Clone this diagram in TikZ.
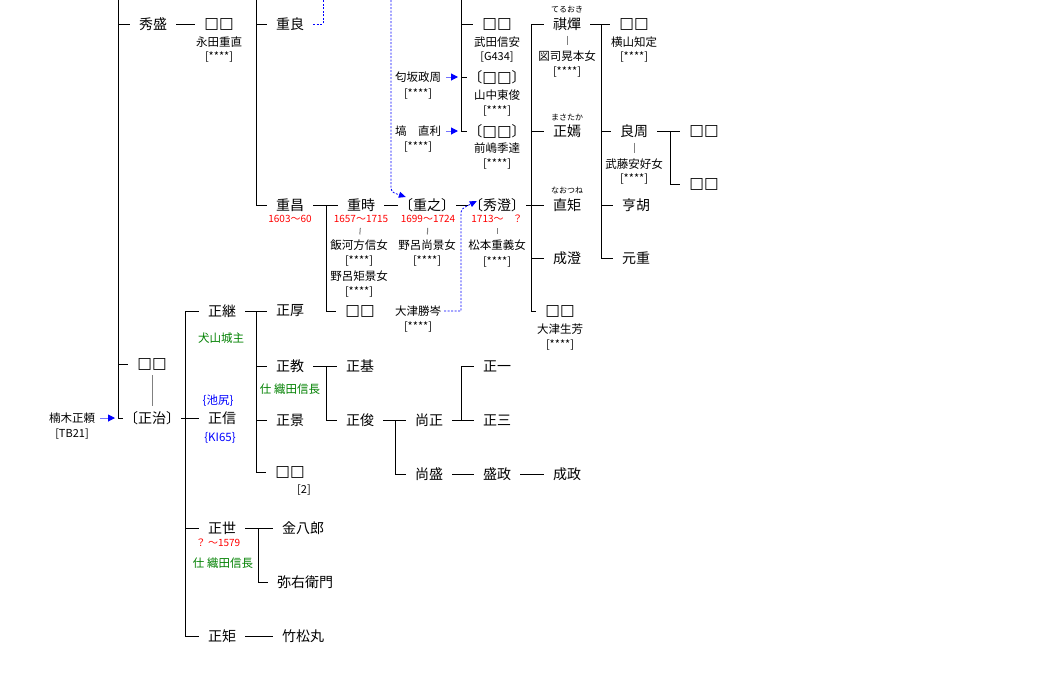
\documentclass[tikz,border=0pt]{standalone}
\usepackage{fontspec}
\newfontfamily\jp{Noto Sans CJK JP}
\newfontfamily\symf{DejaVu Sans}
\newcommand\sq{{\symf\fontsize{15.5}{15.5}\selectfont □}}
\usetikzlibrary{arrows.meta,calc}

\tikzset{
  nm/.style={font=\jp\fontsize{14}{14}\selectfont, inner xsep=9pt, inner ysep=0pt},
  brk/.style={nm, inner xsep=1pt},
  sb/.style={font=\jp\fontsize{11.5}{11.5}\selectfont, inner xsep=3pt, inner ysep=0pt},
  st/.style={font=\jp\fontsize{11}{11}\selectfont, inner sep=0pt},
  dt/.style={font=\jp\fontsize{10}{10}\selectfont, text=red, inner sep=0pt},
  rb/.style={font=\jp\fontsize{8}{8}\selectfont, inner sep=0pt},
  gn/.style={font=\jp\fontsize{11.5}{11.5}\selectfont, text=green!50!black, inner sep=0pt},
  bl/.style={font=\jp\fontsize{11.5}{11.5}\selectfont, text=blue, inner sep=0pt},
  ln/.style={line width=1pt},
  sp/.style={gray, line width=1pt, shorten <=5pt, shorten >=5pt},
  adopt/.style={blue, line width=0.8pt, dash pattern=on 2pt off 1.5pt},
  arr/.style={blue!55, line width=1pt, shorten <=2pt, -{Triangle[length=7pt,width=7pt,color=blue]}}
}

\begin{document}
\begin{tikzpicture}[x=1pt,y=-1pt]
  \useasboundingbox (0,0) rectangle (1060,681);

  % columns of the tree
  \coordinate (c0) at (118,0);
  \coordinate (c1) at (256,0);
  \coordinate (c2) at (461,0);
  \coordinate (c3) at (531,0);
  \coordinate (c4) at (601,0);
  \coordinate (c5) at (670,0);
  \coordinate (e1) at (326,0);
  \coordinate (d0) at (185,0);
  \coordinate (d1) at (256,0);
  \coordinate (d2) at (326,0);
  \coordinate (d3) at (395,0);
  \coordinate (d4) at (461,0);
  \coordinate (d5) at (258,0);
  \coordinate (dq) at (323,0);
  \coordinate (dr) at (391,0);

  % upper branch
  \node [nm] (hidemori) at (153,24) {秀盛};
  \node [nm] (boxa) at (219,24) {\sq\sq};
  \node [sb] (boxa-s) at (219,42) {永田重直};
  \node [st] at (219,57) {[****]};
  \node [nm] (shigeyoshi) at (290,24) {重良};

  \node [nm] (shigemasa) at (290,205) {重昌};
  \node [dt] at (290,219) {1603～60};
  \node [nm] (shigetoki) at (361,205) {重時};
  \node [dt] (shigetoki-d) at (361,219) {1657～1715};
  \node [sb] (iikawa) at (359,245) {飯河方信女};
  \node [st] at (359,261) {[****]};
  \node [sb] at (359,276) {野呂矩景女};
  \node [st] at (359,292) {[****]};
  \node [nm] (boxb) at (360,311) {\sq\sq};

  \node [brk] (shigeyuki) at (427,205) {〔重之〕};
  \node [dt] (shigeyuki-d) at (428,219) {1699～1724};
  \node [sb] (noro) at (427,245) {野呂尚景女};
  \node [st] at (427,261) {[****]};
  \node [brk] (hidezumi) at (497,205) {〔秀澄〕};
  \node [dt] (hidezumi-d) at (497,219) {1713～\hspace{9pt}？};
  \node [sb] (matsumoto) at (497,245) {松本重義女};
  \node [st] at (497,262) {[****]};
  \node [sb] (otsu) at (418,311) {大津勝岑};
  \node [st] at (418,327) {[****]};

  \node [nm] (boxc) at (497,24) {\sq\sq};
  \node [sb] at (497,42) {武田信安};
  \node [st] at (497,57) {[G434]};
  \node [brk] (boxd) at (497,77) {〔\sq\sq〕};
  \node [sb] at (497,95) {山中東俊};
  \node [st] at (497,111) {[****]};
  \node [brk] (boxe) at (497,131) {〔\sq\sq〕};
  \node [sb] at (497,148) {前嶋季達};
  \node [st] at (497,164) {[****]};
  \node [sb] (sagisaka) at (418,77) {匂坂政周};
  \node [st] at (418,94) {[****]};
  \node [sb] (hanawa) at (418,131) {塙　直利};
  \node [st] at (418,147) {[****]};

  \node [rb] at (567,9) {てるおき};
  \node [nm] (terukatsu) at (567,24) {祺燀};
  \node [sb] (zushi) at (567,56) {図司晃本女};
  \node [st] at (567,72) {[****]};
  \node [rb] at (567,117) {まさたか};
  \node [nm] (masataka) at (567,131) {正嫣};
  \node [rb] at (567,190) {なおつね};
  \node [nm] (naotsune) at (567,205) {直矩};
  \node [nm] (narizumi) at (567,258) {成澄};
  \node [nm] (boxf) at (560,311) {\sq\sq};
  \node [sb] at (560,329) {大津生芳};
  \node [st] at (560,345) {[****]};

  \node [nm] (boxg) at (634,24) {\sq\sq};
  \node [sb] at (634,42) {横山知定};
  \node [st] at (634,57) {[****]};
  \node [nm] (yoshichika) at (634,131) {良周};
  \node [sb] (muto) at (634,164) {武藤安好女};
  \node [st] at (634,179) {[****]};
  \node [nm] (kouko) at (636,205) {亨胡};
  \node [nm] (motoshige) at (636,258) {元重};
  \node [nm] (boxh) at (704,131) {\sq\sq};
  \node [nm] (boxi) at (704,184) {\sq\sq};

  % lower branch
  \node [sb] (masayori) at (72,418) {楠木正頼};
  \node [st] at (72,434) {[TB21]};
  \node [nm] (boxj) at (152,364) {\sq\sq};
  \node [brk] (masaharu) at (152,418) {〔正治〕};

  \node [nm] (masatsugu) at (222,311) {正継};
  \node [gn] at (221,338) {犬山城主};
  \node [bl] at (218,401) {\{池尻\}};
  \node [nm] (masanobu) at (222,418) {正信};
  \node [bl] at (220,438) {\{KI65\}};
  \node [nm] (masayo) at (222,528) {正世};
  \node [dt] at (218,543) {？ ～1579};
  \node [gn] at (223,563) {仕 織田信長};
  \node [nm] (masanori) at (222,636) {正矩};

  \node [nm] (masaatsu) at (290,311) {正厚};
  \node [nm] (masanori2) at (290,366) {正教};
  \node [gn] at (290,389) {仕 織田信長};
  \node [nm] (masakage) at (290,420) {正景};
  \node [nm] (boxk) at (290,472) {\sq\sq};
  \node [st] at (304,490) {[2]};

  \node [nm] (masamoto) at (360,366) {正基};
  \node [nm] (masatoshi) at (360,420) {正俊};
  \node [nm] (naomasa) at (429,420) {尚正};
  \node [nm] (naomori) at (429,474) {尚盛};
  \node [nm] (masakazu) at (497,366) {正一};
  \node [nm] (masazo) at (497,420) {正三};
  \node [nm] (morimasa) at (497,474) {盛政};
  \node [nm] (narimasa) at (567,474) {成政};

  \node [nm] (kinpachiro) at (303,528) {金八郎};
  \node [nm] (yaemon) at (305,582) {弥右衛門};
  \node [nm] (takematsu) at (303,636) {竹松丸};

  % tree lines
  \draw [ln] (c0) -- (masaharu.west -| c0);
  \foreach \k in {hidemori,boxj,masaharu} \draw [ln] (\k.west -| c0) -- (\k.west);
  \draw [ln] (hidemori) -- (boxa);

  \draw [ln] (c1) -- (shigemasa.west -| c1);
  \foreach \k in {shigeyoshi,shigemasa} \draw [ln] (\k.west -| c1) -- (\k.west);

  \draw [ln] (shigemasa.east) -- (shigemasa.east -| e1);
  \draw [ln] (shigetoki.west -| e1) -- (boxb.west -| e1);
  \foreach \k in {shigetoki,boxb} \draw [ln] (\k.west -| e1) -- (\k.west);
  \draw [ln] (shigetoki) -- (shigeyuki);
  \draw [ln] (shigeyuki) -- (hidezumi);

  \draw [ln] (c2) -- (boxe.west -| c2);
  \foreach \k in {boxc,boxd,boxe} \draw [ln] (\k.west -| c2) -- (\k.west);

  \draw [ln] (hidezumi.east) -- (hidezumi.east -| c3);
  \draw [ln] (terukatsu.west -| c3) -- (boxf.west -| c3);
  \foreach \k in {terukatsu,masataka,naotsune,narizumi,boxf} \draw [ln] (\k.west -| c3) -- (\k.west);

  \draw [ln] (terukatsu.east) -- (terukatsu.east -| c4);
  \draw [ln] (boxg.west -| c4) -- (motoshige.west -| c4);
  \foreach \k in {boxg,yoshichika,kouko,motoshige} \draw [ln] (\k.west -| c4) -- (\k.west);

  \draw [ln] (yoshichika.east) -- (yoshichika.east -| c5);
  \draw [ln] (boxh.west -| c5) -- (boxi.west -| c5);
  \foreach \k in {boxh,boxi} \draw [ln] (\k.west -| c5) -- (\k.west);

  \draw [ln] (masaharu.east) -- (masaharu.east -| d0);
  \draw [ln] (masatsugu.west -| d0) -- (masanori.west -| d0);
  \foreach \k in {masatsugu,masanobu,masayo,masanori} \draw [ln] (\k.west -| d0) -- (\k.west);

  \draw [ln] (masatsugu.east) -- (masatsugu.east -| d1);
  \draw [ln] (masaatsu.west -| d1) -- (boxk.west -| d1);
  \foreach \k in {masaatsu,masanori2,masakage,boxk} \draw [ln] (\k.west -| d1) -- (\k.west);

  \draw [ln] (masanori2.east) -- (masanori2.east -| d2);
  \draw [ln] (masamoto.west -| d2) -- (masatoshi.west -| d2);
  \foreach \k in {masamoto,masatoshi} \draw [ln] (\k.west -| d2) -- (\k.west);

  \draw [ln] (masatoshi.east) -- (masatoshi.east -| d3);
  \draw [ln] (naomasa.west -| d3) -- (naomori.west -| d3);
  \foreach \k in {naomasa,naomori} \draw [ln] (\k.west -| d3) -- (\k.west);

  \draw [ln] (naomasa.east) -- (naomasa.east -| d4);
  \draw [ln] (masakazu.west -| d4) -- (masazo.west -| d4);
  \foreach \k in {masakazu,masazo} \draw [ln] (\k.west -| d4) -- (\k.west);
  \draw [ln] (naomori) -- (morimasa);
  \draw [ln] (morimasa) -- (narimasa);

  \draw [ln] (masayo.east) -- (masayo.east -| d5);
  \draw [ln] (kinpachiro.west -| d5) -- (yaemon.west -| d5);
  \foreach \k in {kinpachiro,yaemon} \draw [ln] (\k.west -| d5) -- (\k.west);
  \draw [ln] (masanori) -- (takematsu);

  % spouses
  \draw [sp] (shigetoki-d) -- (iikawa);
  \draw [sp] (shigeyuki-d) -- (noro);
  \draw [sp] (hidezumi-d) -- (matsumoto);
  \draw [sp] (terukatsu) -- (zushi);
  \draw [sp] (yoshichika) -- (muto);
  \draw [sp] (boxj) -- (masaharu);

  % adoptions
  \draw [arr] (masayori.east) -- ($(masaharu.west -| c0)+(-3,0)$);
  \draw [arr] (sagisaka.east) -- ($(boxd.west -| c2)+(-3,0)$);
  \draw [arr] (hanawa.east) -- ($(boxe.west -| c2)+(-3,0)$);
  \draw [adopt] (shigeyoshi.east) -- (shigeyoshi.east -| dq) -- (dq);
  \draw [adopt, -{Triangle[length=7pt,width=6pt]}] (dr) -- ($(dr)+(0,184)$)
    .. controls ($(dr)+(0,192)$) .. ($(shigeyuki.west)+(8,-8)$);
  \draw [adopt, -{Triangle[length=7pt,width=6pt]}] (otsu.east) -- (otsu.east -| c2) -- ($(c2)+(0,216)$)
    .. controls ($(c2)+(0,209)$) .. ($(hidezumi.west)+(9,-4)$);
\end{tikzpicture}
\end{document}
